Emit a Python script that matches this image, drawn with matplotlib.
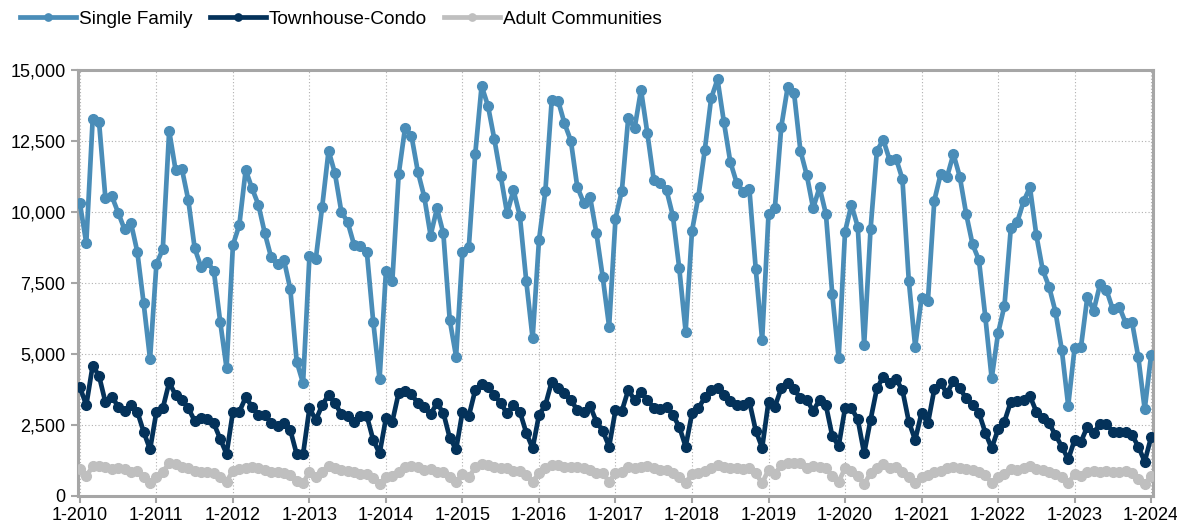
import matplotlib.pyplot as plt
import numpy as np

plt.rcParams["font.family"] = ["Liberation Sans", "DejaVu Sans"]

# monthly values, Jan-2010 .. Jan-2024
single_family = [
    10300, 8900, 13260, 13170, 10480, 10560, 9980, 9390, 9620, 8600, 6780, 4820,
    8170, 8690, 12860, 11480, 11510, 10420, 8720, 8070, 8230, 7930, 6140, 4500,
    8840, 9540, 11480, 10830, 10250, 9250, 8400, 8170, 8310, 7280, 4730, 3970,
    8450, 8360, 10190, 12160, 11360, 10010, 9640, 8840, 8800, 8600, 6140, 4120,
    7930, 7570, 11340, 12970, 12680, 11420, 10540, 9170, 10130, 9250, 6200, 4910,
    8580, 8780, 12040, 14440, 13740, 12560, 11270, 9950, 10770, 9860, 7580, 5550,
    9010, 10740, 13940, 13920, 13120, 12510, 10890, 10330, 10540, 9270, 7700, 5960,
    9770, 10750, 13320, 12950, 14300, 12770, 11130, 11030, 10770, 9860, 8020, 5790,
    9340, 10540, 12180, 14000, 14670, 13170, 11770, 11030, 10720, 10800, 7980, 5490,
    9930, 10150, 13000, 14390, 14200, 12160, 11300, 10130, 10870, 9930, 7100, 4850,
    9310, 10250, 9480, 5320, 9390, 12160, 12540, 11830, 11880, 11160, 7580, 5260,
    6970, 6880, 10400, 11340, 11240, 12040, 11240, 9930, 8860, 8310, 6310, 4140,
    5730, 6700, 9420, 9640, 10370, 10870, 9190, 7960, 7370, 6490, 5140, 3180,
    5200, 5240, 7000, 6530, 7460, 7250, 6570, 6670, 6100, 6140, 4880, 3050,
    4960,
]
townhouse_condo = [
    3830, 3200, 4590, 4230, 3300, 3500, 3150, 2990, 3200, 2970, 2260, 1640,
    2970, 3090, 4000, 3560, 3380, 3090, 2650, 2740, 2700, 2560, 2010, 1480,
    2970, 2970, 3470, 3150, 2850, 2850, 2580, 2460, 2580, 2320, 1470, 1470,
    3090, 2680, 3200, 3560, 3260, 2890, 2820, 2620, 2820, 2820, 1970, 1500,
    2740, 2620, 3640, 3710, 3590, 3260, 3120, 2890, 3260, 2930, 2050, 1640,
    2970, 2820, 3730, 3940, 3830, 3560, 3260, 2910, 3200, 2970, 2230, 1680,
    2850, 3200, 4030, 3790, 3620, 3380, 3030, 2970, 3180, 2620, 2290, 1740,
    3030, 3000, 3730, 3380, 3670, 3380, 3110, 3050, 3150, 2850, 2440, 1740,
    2910, 3090, 3470, 3730, 3790, 3560, 3360, 3200, 3200, 3320, 2300, 1700,
    3320, 3150, 3790, 3970, 3760, 3440, 3380, 3000, 3380, 3200, 2110, 1760,
    3090, 3090, 2700, 1500, 2680, 3790, 4200, 3970, 4110, 3730, 2620, 1970,
    2930, 2560, 3760, 3970, 3620, 4060, 3790, 3440, 3200, 2930, 2230, 1680,
    2350, 2620, 3320, 3360, 3380, 3520, 2970, 2740, 2560, 2150, 1740, 1290,
    1970, 1910, 2440, 2230, 2540, 2540, 2260, 2260, 2260, 2150, 1740, 1210,
    2070,
]
adult_communities = [
    940, 700, 1040, 1070, 1020, 940, 970, 950, 860, 880, 680, 450,
    680, 860, 1150, 1110, 1030, 970, 870, 860, 860, 800, 680, 510,
    890, 940, 970, 1010, 970, 920, 860, 830, 800, 740, 540, 450,
    860, 680, 860, 1070, 970, 920, 890, 860, 780, 780, 620, 430,
    680, 700, 860, 1030, 1060, 1010, 920, 940, 860, 860, 680, 510,
    770, 660, 1010, 1130, 1090, 1010, 970, 970, 890, 890, 740, 510,
    800, 970, 1090, 1090, 1030, 1010, 1030, 970, 920, 800, 800, 510,
    800, 860, 1010, 970, 1030, 1060, 970, 920, 920, 820, 680, 470,
    770, 820, 890, 970, 1090, 1010, 970, 970, 940, 970, 800, 450,
    920, 770, 1090, 1150, 1170, 1150, 970, 1060, 1030, 970, 700, 510,
    970, 890, 700, 420, 800, 970, 1130, 970, 1010, 860, 680, 450,
    680, 740, 860, 890, 970, 1030, 970, 940, 920, 860, 740, 450,
    680, 770, 940, 920, 970, 1060, 940, 920, 860, 770, 680, 450,
    770, 700, 860, 890, 860, 890, 860, 860, 890, 800, 590, 420,
    700,
]
year_labels = [f"1-{y}" for y in range(2010, 2025)]

C_SF = "#4a8db8"
C_TC = "#04325a"
C_AC = "#bfbfbf"
GRID = "#b0b0b0"
FRAME = "#a6a6a6"

fig = plt.figure(figsize=(11.77, 5.28), dpi=100)
ax = fig.add_axes([78 / 1177, 32 / 528, 1075 / 1177, 426 / 528])

x = np.arange(len(single_family))
kw = dict(linewidth=3.4, marker="o", markersize=7, solid_joinstyle="round")
ax.plot(x, adult_communities, color=C_AC, label="Adult Communities", zorder=3, **kw)
ax.plot(x, townhouse_condo, color=C_TC, label="Townhouse-Condo", zorder=4, **kw)
ax.plot(x, single_family, color=C_SF, label="Single Family", zorder=5, **kw)

ax.set_xlim(-0.3, 168.3)
ax.set_ylim(0, 15000)
ax.set_yticks(np.arange(0, 15001, 2500))
ax.set_yticklabels([f"{v:,}" for v in range(0, 15001, 2500)])
ax.set_xticks(np.arange(0, 169, 12))
ax.set_xticklabels(year_labels)

ax.grid(True, color=GRID, linestyle=(0, (1, 2)), linewidth=0.8, zorder=0)
ax.set_axisbelow(True)
for s in ax.spines.values():
    s.set_color(FRAME)
    s.set_linewidth(2.2)
ax.tick_params(axis="both", colors=FRAME, length=5, width=1.5, labelsize=13,
               labelcolor="black")
ax.tick_params(axis="x", pad=3)
ax.tick_params(axis="y", pad=4)

handles, labels = ax.get_legend_handles_labels()
order = [2, 1, 0]
fig.legend([handles[i] for i in order], [labels[i] for i in order],
           loc="center left", bbox_to_anchor=(20 / 1177, 1 - 19 / 528), ncol=3,
           frameon=False, borderpad=0, borderaxespad=0,
           fontsize=13.7, handlelength=2.95, handletextpad=0.15, columnspacing=0.9,
           markerscale=0.75)

fig.savefig("out.png", dpi=100, facecolor="white")
